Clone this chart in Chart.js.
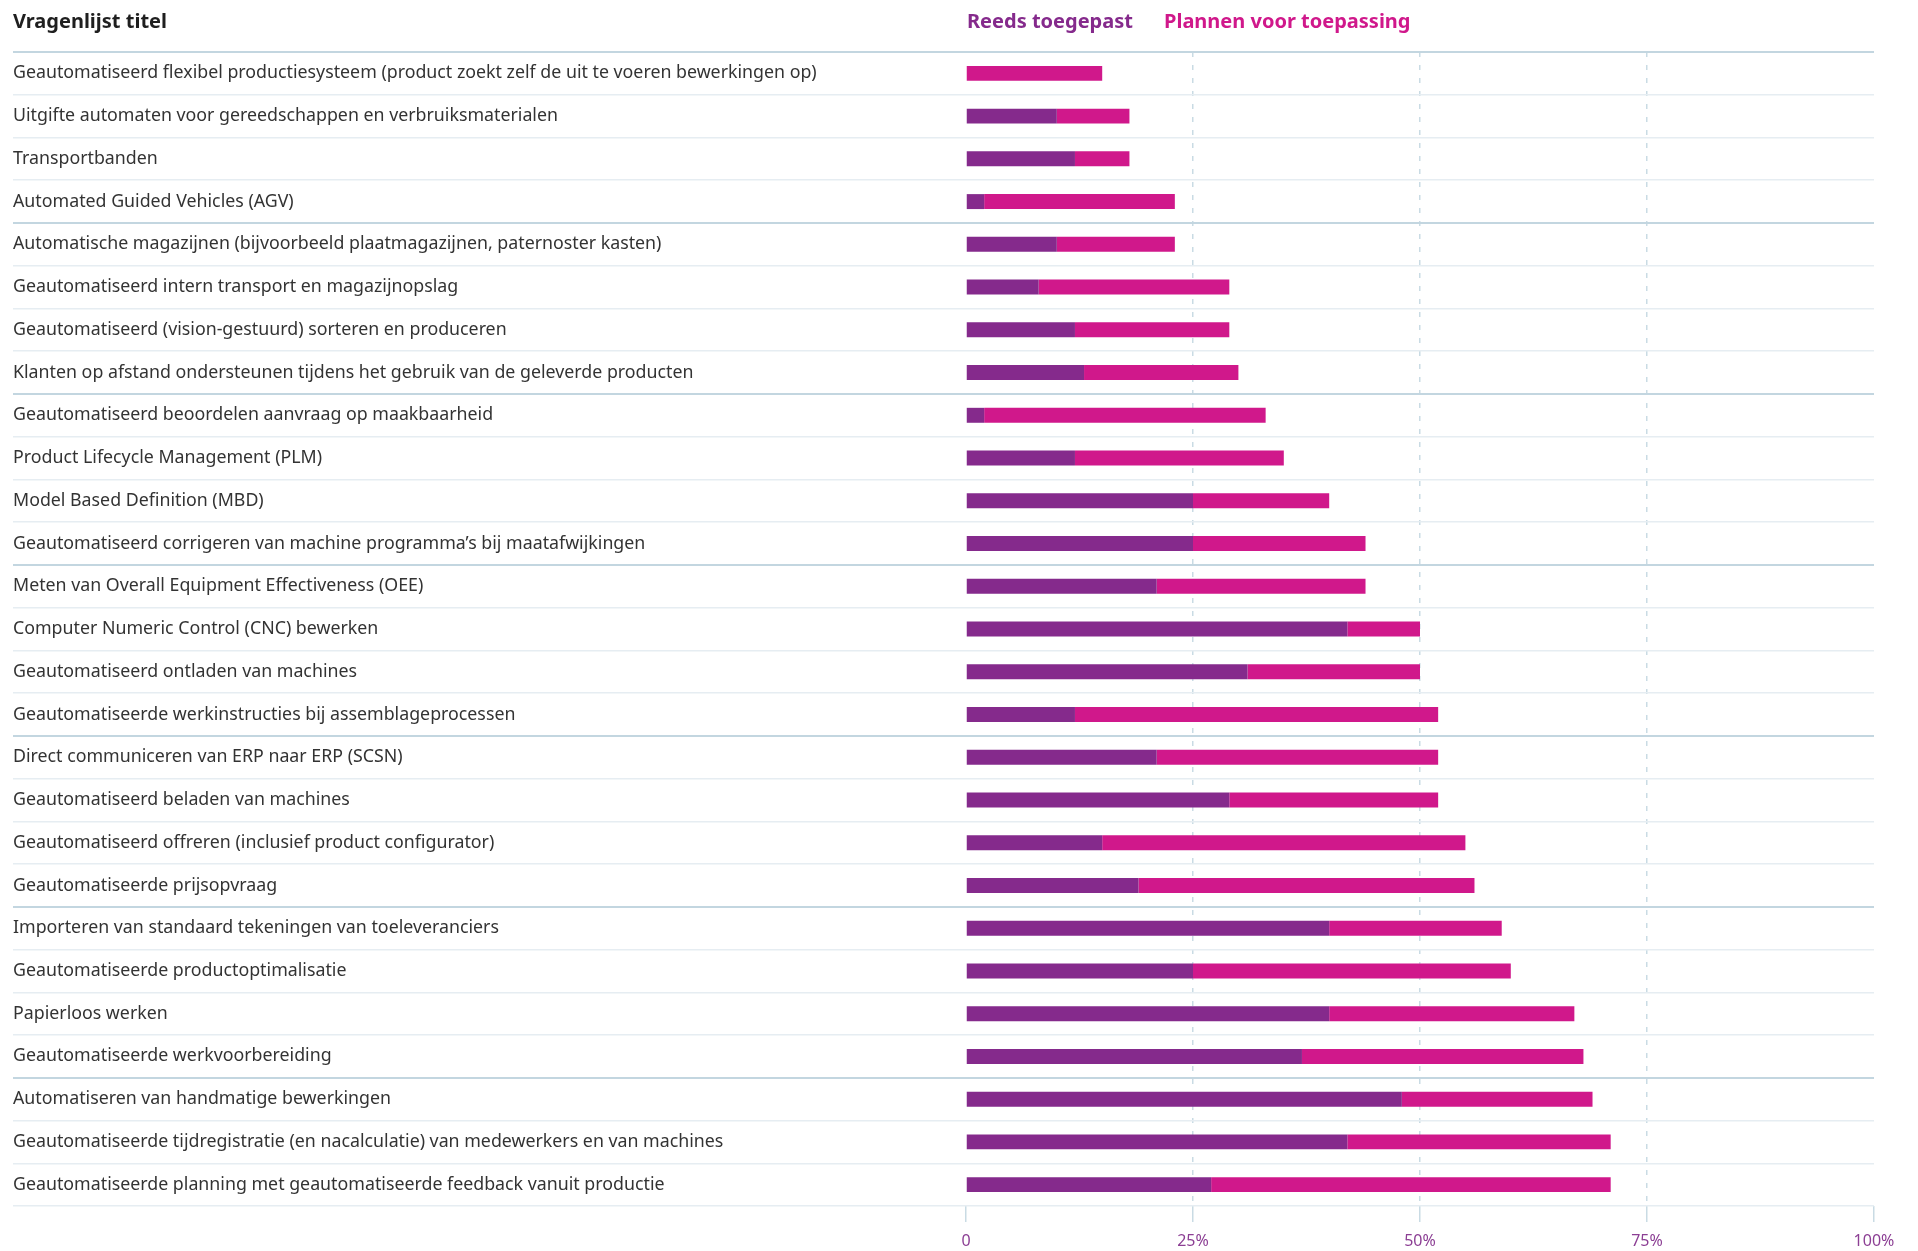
<!DOCTYPE html>
<html lang="nl">
<head>
<meta charset="utf-8">
<title>Vragenlijst</title>
<script src="https://cdn.jsdelivr.net/npm/chart.js@4.4.1/dist/chart.umd.min.js"></script>
<style>
    html, body { margin: 0; padding: 0; background: #fff; }
    #wrap { position: relative; width: 1918px; height: 1251px; }
    #chart { position: absolute; left: 0; top: 0; }
    .kop { position: absolute; top: 7px; font-family: "Noto Sans", sans-serif; font-weight: 700; font-size: 20px; white-space: nowrap; }
</style>
</head>
<body>
<div id="wrap">
    <canvas id="chart" width="1918" height="1251"></canvas>
    <div class="kop" style="left:13px;color:#1f1f1f">Vragenlijst titel</div>
    <div class="kop" style="left:967px;color:#852a8c">Reeds toegepast</div>
    <div class="kop" style="left:1164px;color:#d0188b">Plannen voor toepassing</div>
</div>
<script>
// Vragen (van boven naar beneden)
const vragen = [
    'Geautomatiseerd flexibel productiesysteem (product zoekt zelf de uit te voeren bewerkingen op)',
    'Uitgifte automaten voor gereedschappen en verbruiksmaterialen',
    'Transportbanden',
    'Automated Guided Vehicles (AGV)',
    'Automatische magazijnen (bijvoorbeeld plaatmagazijnen, paternoster kasten)',
    'Geautomatiseerd intern transport en magazijnopslag',
    'Geautomatiseerd (vision-gestuurd) sorteren en produceren',
    'Klanten op afstand ondersteunen tijdens het gebruik van de geleverde producten',
    'Geautomatiseerd beoordelen aanvraag op maakbaarheid',
    'Product Lifecycle Management (PLM)',
    'Model Based Definition (MBD)',
    'Geautomatiseerd corrigeren van machine programma’s bij maatafwijkingen',
    'Meten van Overall Equipment Effectiveness (OEE)',
    'Computer Numeric Control (CNC) bewerken',
    'Geautomatiseerd ontladen van machines',
    'Geautomatiseerde werkinstructies bij assemblageprocessen',
    'Direct communiceren van ERP naar ERP (SCSN)',
    'Geautomatiseerd beladen van machines',
    'Geautomatiseerd offreren (inclusief product configurator)',
    'Geautomatiseerde prijsopvraag',
    'Importeren van standaard tekeningen van toeleveranciers',
    'Geautomatiseerde productoptimalisatie',
    'Papierloos werken',
    'Geautomatiseerde werkvoorbereiding',
    'Automatiseren van handmatige bewerkingen',
    'Geautomatiseerde tijdregistratie (en nacalculatie) van medewerkers en van machines',
    'Geautomatiseerde planning met geautomatiseerde feedback vanuit productie'
];

// Percentages per vraag
const reedsToegepast = [0, 10, 12, 2, 10, 8, 12, 13, 2, 12, 25, 25, 21, 42, 31, 12, 21, 29, 15, 19, 40, 25, 40, 37, 48, 42, 27];
const plannenVoorToepassing = [15, 8, 6, 21, 13, 21, 17, 17, 31, 23, 15, 19, 23, 8, 19, 40, 31, 23, 40, 37, 19, 35, 27, 31, 21, 29, 44];

// As-indeling
const asTicks = [0, 25, 50, 75, 100];

const PAARS = '#852a8c';
const ROZE = '#d0188b';
const LIJN_DONKER = '#c3d6e0';
const LIJN_LICHT = '#e6edf2';

// Elke 4e scheidingslijn (en de onderste) is donkerder
function isGroepLijn(c) {
    return c.index % 4 === 0 || c.index === vragen.length;
}

const ctx = document.getElementById('chart');

new Chart(ctx, {
    type: 'bar',
    data: {
        labels: vragen,
        datasets: [
            {
                label: 'Reeds toegepast',
                data: reedsToegepast,
                backgroundColor: PAARS,
                borderWidth: 0
            },
            {
                label: 'Plannen voor toepassing',
                data: plannenVoorToepassing,
                backgroundColor: ROZE,
                borderWidth: 0
            }
        ]
    },
    options: {
        indexAxis: 'y',
        responsive: false,
        animation: false,
        barPercentage: 0.35,
        categoryPercentage: 1,
        layout: {
            padding: { left: 13, right: 44, top: 52, bottom: 0 }
        },
        plugins: {
            legend: { display: false },
            tooltip: {
                callbacks: {
                    label: function (context) {
                        return `${context.dataset.label}: ${context.raw}%`;
                    }
                }
            }
        },
        scales: {
            x: {
                stacked: true,
                min: 0,
                max: 100,
                afterBuildTicks: function (scale) {
                    scale.ticks = asTicks.map(v => ({ value: v }));
                },
                afterFit: function (scale) {
                    scale.height = 45;
                },
                // in v4 zit de streep-instelling van de gridlijnen onder border
                border: { display: false, dash: [5, 8] },
                grid: {
                    lineWidth: 1.5,
                    color: function (c) {
                        const v = c.tick ? c.tick.value : null;
                        return (v === 0 || v === 100) ? 'rgba(0,0,0,0)' : '#c9dbe4';
                    },
                    tickColor: '#c9dbe4',
                    tickLength: 16,
                    tickBorderDash: []
                },
                ticks: {
                    padding: 10,
                    color: '#8c3f94',
                    font: { family: 'Noto Sans', size: 16 },
                    callback: function (value) {
                        return value === 0 ? '0' : value + '%';
                    }
                }
            },
            y: {
                stacked: true,
                afterFit: function (scale) {
                    scale.width = 953;
                },
                border: { display: false },
                grid: {
                    offset: true,
                    tickLength: 953,
                    lineWidth: c => isGroepLijn(c) ? 2 : 1.5,
                    color: c => isGroepLijn(c) ? LIJN_DONKER : LIJN_LICHT,
                    tickColor: c => isGroepLijn(c) ? LIJN_DONKER : LIJN_LICHT
                },
                ticks: {
                    crossAlign: 'far',
                    autoSkip: false,
                    color: '#333333',
                    font: { family: 'Noto Sans', size: 17.8 }
                }
            }
        }
    }
});
</script>
</body>
</html>
